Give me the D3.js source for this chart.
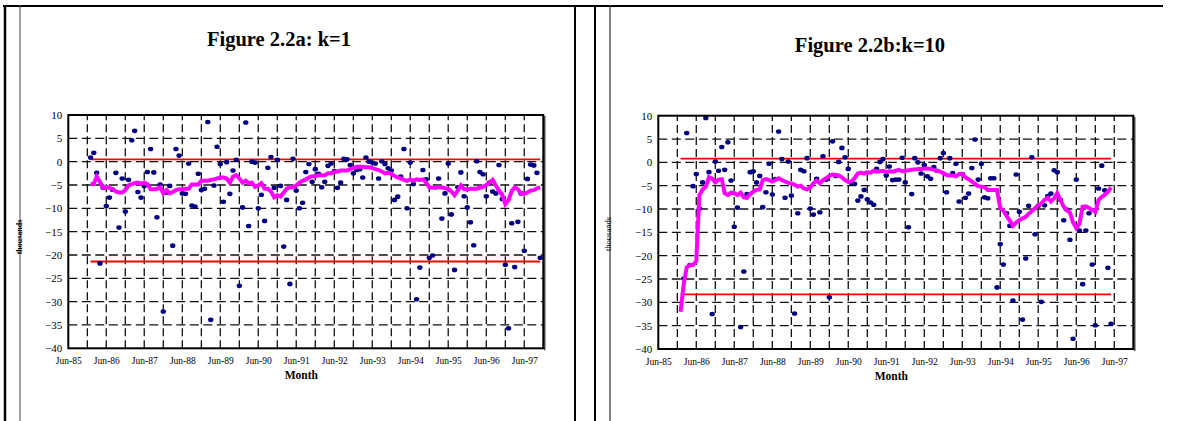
<!DOCTYPE html>
<html>
<head>
<meta charset="utf-8">
<script src="https://cdn.jsdelivr.net/npm/d3@7"></script>
<style>
  body { margin: 0; background: #fff; }
  svg { display: block; }
  text { font-family: "Liberation Serif", "Times New Roman", serif; }
</style>
</head>
<body>
<script>
// ---- data (thousands, monthly) ----
const yTicks = [10, 5, 0, -5, -10, -15, -20, -25, -30, -35, -40];
const xTickLabels = ["Jun-85", "Jun-86", "Jun-87", "Jun-88", "Jun-89", "Jun-90", "Jun-91",
                     "Jun-92", "Jun-93", "Jun-94", "Jun-95", "Jun-96", "Jun-97"];

// panel a (k=1): Jan-86 .. Nov-97
const aStart = "1986-01";
const aDots = [0.9, 1.9, -2.4, -21.8, -5.6, -9.5, -7.7, -6.0, -2.4, -14.1, -3.6, -10.7, -3.9, 4.6, 6.6, -6.5, -7.7,
  -5.2, -2.2, 2.7, -2.3, -11.9, -4.9, -32.1, -6.6, -5.2, -18.0, 2.7, 1.3, -6.8, -6.9, -0.4, -9.4, -9.6, -2.6, -6.1,
  -5.8, 8.5, -33.9, -5.1, 3.2, -0.5, -8.6, -0.1, -6.9, -1.9, 0.4, -26.6, -9.8, 8.4, -13.8, 0.0, -0.2, -10.0, -7.1,
  -12.7, -1.3, 1.0, -5.6, 0.4, -5.2, -18.2, -8.2, -26.2, 0.6, -6.2, -10.0, -8.8, -2.2, -0.5, -4.3, -1.6, -2.6, -5.5,
  -4.3, -0.9, -0.4, -2.0, -5.6, -4.5, 0.6, 0.5, -0.7, -2.5, -1.8, -1.6, -3.4, 0.9, 0.0, -0.2, -0.4, -3.6, 0.1, -0.5,
  -1.4, -1.9, -8.2, -7.5, -3.2, 2.7, -10.0, -0.2, -4.8, -29.5, -22.7, -1.8, -3.8, -20.6, -20.1, -5.5, -3.6, -12.2,
  -6.8, -0.4, -11.3, -23.2, -5.5, -2.3, -7.4, -9.8, -13.0, -17.9, 0.1, -2.2, -2.7, -7.4, -4.5, -6.4, -6.8, -0.7,
  -8.0, -22.1, -35.7, -13.2, -22.6, -12.9, -6.8, -19.1, -3.7, -0.6, -0.8, -2.4, -20.6];
const aSmooth = [-4.8, -4.8, -3.2, -4.3, -5.6, -5.4, -5.6, -5.9, -6.4, -6.6, -6.6, -6.1, -5.1, -4.8, -4.6, -4.5,
  -4.7, -4.5, -4.8, -5.9, -5.9, -5.8, -5.5, -6.8, -6.1, -6.8, -6.5, -6.1, -5.9, -5.9, -5.8, -5.8, -4.9, -4.9, -4.9,
  -4.1, -4.1, -4.1, -3.9, -3.8, -3.6, -3.4, -3.4, -3.6, -4.5, -3.2, -2.9, -3.6, -4.5, -4.1, -4.6, -4.5, -5.4, -5.1,
  -4.6, -5.8, -5.8, -6.4, -7.6, -7.2, -7.5, -6.6, -5.8, -5.5, -5.5, -5.1, -4.5, -4.1, -3.8, -3.4, -3.1, -3.1, -2.9,
  -2.9, -2.9, -2.5, -2.5, -2.2, -2.1, -1.9, -1.9, -1.9, -1.6, -1.4, -1.1, -1.1, -1.1, -1.2, -1.2, -1.4, -1.6, -1.8,
  -2.1, -2.5, -2.4, -2.6, -3.1, -3.4, -3.6, -3.9, -4.1, -3.8, -4.1, -3.8, -3.9, -3.8, -4.5, -5.5, -5.6, -5.5, -5.5,
  -5.5, -5.7, -5.8, -6.4, -7.2, -6.2, -5.1, -5.9, -5.9, -5.8, -5.8, -5.8, -5.6, -5.4, -5.0, -4.5, -3.9, -5.1, -6.2,
  -7.1, -9.1, -8.2, -6.3, -5.5, -5.9, -6.9, -6.9, -6.6, -6.2, -6.1, -5.7, -5.5];
const aLimits = [0.5, -21.4];

// panel b (k=10): dots Feb-86 .. Apr-97, smoothed line Jan-86 .. Apr-97
const bDotStart = "1986-02";
const bDots = [-24.9, 6.3, -22.0, -5.1, -2.5, -9.9, -4.3, 9.5, -2.1, -32.5, 0.2, -1.8, 3.3, -1.6, 4.3, -3.9, -13.8,
  -9.7, -35.3, -23.4, -6.8, -2.1, -1.9, -4.3, -2.9, -9.6, -6.4, -0.3, -6.9, -3.6, 6.6, 0.7, -7.6, 0.2, -7.1, -32.4,
  -10.9, -1.6, -1.9, 0.9, -9.9, -11.2, -3.5, -10.7, 1.3, -3.7, -28.9, 4.5, -2.9, 0.1, 3.1, 1.1, -1.4, -4.4, -4.6,
  -8.2, -7.3, -5.9, -7.9, -8.6, -9.1, -1.4, 0.1, 0.7, -2.8, -0.9, -3.8, -3.7, -3.7, 1.0, -4.3, -13.9, -6.8, 0.9, 0.0,
  -2.4, -0.6, -3.0, -3.5, -1.0, -1.8, 0.9, 2.0, -6.4, 0.9, -2.3, -0.3, -8.4, -2.5, -7.6, -6.7, -1.2, 4.9, -3.7, -0.3,
  -7.5, -7.7, -3.4, -3.4, -26.8, -17.5, -21.9, -10.9, -13.6, -29.6, -2.6, -10.6, -33.7, -20.6, -9.3, 1.1, -15.4,
  -9.3, -29.9, -9.2, -7.2, -6.7, -1.7, -2.1, -8.0, -12.4, -10.1, -16.6, -37.8, -3.7, -14.6, -26.1, -14.6, -10.9,
  -21.9, -34.9, -5.6, -0.7, -6.0, -22.6, -34.6];
const bLineStart = "1986-01";
const bSmooth = [-32.0, -26.0, -22.5, -22.0, -22.0, -21.2, -7.0, -5.8, -5.2, -3.2, -3.5, -4.3, -3.7, -3.6, -6.6,
  -7.0, -6.5, -6.6, -7.0, -6.5, -7.5, -7.6, -6.8, -6.3, -5.9, -5.8, -3.8, -3.6, -3.8, -4.1, -3.8, -3.4, -3.8, -4.1,
  -4.4, -4.5, -4.8, -5.2, -5.0, -5.6, -5.8, -5.4, -4.5, -3.9, -4.5, -3.8, -3.4, -2.9, -2.6, -2.7, -2.8, -3.2, -3.8,
  -4.2, -4.1, -3.4, -2.4, -2.2, -2.4, -2.1, -2.2, -1.8, -2.0, -1.9, -1.8, -2.1, -1.9, -2.0, -1.8, -1.6, -1.9, -1.8,
  -1.7, -1.6, -1.5, -1.4, -1.4, -1.3, -1.3, -1.4, -1.6, -1.8, -2.0, -2.3, -2.7, -2.8, -2.8, -3.0, -2.5, -2.5, -3.2,
  -3.6, -4.1, -4.6, -5.1, -5.2, -5.3, -5.9, -5.9, -5.9, -5.9, -9.8, -10.3, -11.5, -12.5, -13.6, -12.9, -12.4, -12.0,
  -11.7, -11.0, -10.5, -9.8, -9.2, -8.8, -8.0, -7.6, -8.4, -7.7, -6.6, -8.1, -9.5, -10.2, -10.8, -12.9, -14.1,
  -13.2, -9.5, -9.4, -9.8, -10.2, -10.6, -8.1, -7.4, -7.0, -6.3, -5.4];
const bLimits = [0.8, -28.3];

// ---- layout ----
const W = 1181, H = 421;
const plotW = 475, plotH = 233.3;
const parseMonth = d3.timeParse("%Y-%m");
const axisStart = parseMonth("1985-06"), axisEnd = parseMonth("1997-12");

const svg = d3.select("body").append("svg").attr("width", W).attr("height", H);

// page table frame
svg.append("line").attr("x1", 3).attr("x2", 1163).attr("y1", 6).attr("y2", 6)
   .attr("stroke", "#000").attr("stroke-width", 2);
[[5, 2.5, "#000"], [20, 1, "#444"], [575, 2, "#000"], [595, 2, "#000"], [610, 1.2, "#333"]].forEach(([xx, w, c]) => {
  svg.append("line").attr("x1", xx).attr("x2", xx).attr("y1", 5).attr("y2", H)
     .attr("stroke", c).attr("stroke-width", w);
});

function drawPanel(cfg) {
  const x = d3.scaleTime().domain([axisStart, axisEnd]).range([0, plotW]);
  const y = d3.scaleLinear().domain([-40, 10]).range([plotH, 0]);

  const root = svg.append("g").attr("transform", `translate(${cfg.left},0)`);

  root.append("text").attr("x", cfg.titleX).attr("y", cfg.titleY)
      .attr("text-anchor", "middle").attr("font-size", 20.5).attr("font-weight", "bold")
      .text(cfg.title);

  root.append("text").attr("transform", `translate(${cfg.ylabX},${cfg.ylabY}) rotate(-90)`)
      .attr("text-anchor", "middle").attr("font-size", cfg.ylabSize)
      .attr("font-weight", cfg.ylabBold ? "bold" : "normal").attr("font-family", "Liberation Sans, Arial, sans-serif")
      .text("thousands");

  const g = root.append("g").attr("transform", `translate(${cfg.plotX},${cfg.plotY})`);

  g.append("rect").attr("width", plotW).attr("height", plotH).attr("fill", "#fff");

  // horizontal dashed gridlines
  g.selectAll(".hg").data(yTicks.filter(v => v > -40 && v < 10)).join("line")
    .attr("x1", 0).attr("x2", plotW).attr("y1", d => y(d)).attr("y2", d => y(d))
    .attr("stroke", "#111").attr("stroke-width", 1.3).attr("stroke-dasharray", "9,4.5");

  // vertical dashed gridlines every 6 months
  const vMonths = d3.timeMonth.range(parseMonth("1985-12"), axisEnd, 6);
  g.selectAll(".vg").data(vMonths).join("line")
    .attr("x1", d => x(d)).attr("x2", d => x(d)).attr("y1", plotH).attr("y2", 0)
    .attr("stroke", "#111").attr("stroke-width", 1.3).attr("stroke-dasharray", "8,4");

  // control limits
  const limFirst = parseMonth(cfg.limitStart);
  const limLast = d3.timeMonth.offset(parseMonth(cfg.lineStart), cfg.smooth.length - 1);
  g.selectAll(".lim").data(cfg.limits).join("line")
    .attr("x1", x(limFirst)).attr("x2", x(limLast)).attr("y1", d => y(d)).attr("y2", d => y(d))
    .attr("stroke", "#ff0000").attr("stroke-width", 1.8);

  // observations
  const dStart = parseMonth(cfg.dotStart);
  g.selectAll(".pt").data(cfg.dots).join("ellipse")
    .attr("cx", (d, i) => x(d3.timeMonth.offset(dStart, i)))
    .attr("cy", d => y(d))
    .attr("rx", 2.7).attr("ry", 2.3).attr("fill", "#000080");

  // smoothed series
  const lStart = parseMonth(cfg.lineStart);
  const line = d3.line().x((d, i) => x(d3.timeMonth.offset(lStart, i))).y(d => y(d));
  g.append("path").datum(cfg.smooth).attr("d", line)
    .attr("fill", "none").attr("stroke", "#ff00ff").attr("stroke-width", 4)
    .attr("stroke-linejoin", "miter").attr("stroke-linecap", "butt");

  // plot frame
  g.append("rect").attr("width", plotW).attr("height", plotH)
    .attr("fill", "none").attr("stroke", "#000").attr("stroke-width", 2);
  g.append("line").attr("x1", plotW + 1.5).attr("x2", plotW + 1.5).attr("y1", 1).attr("y2", plotH + 2)
    .attr("stroke", "#222").attr("stroke-width", 1.2);

  // axes labels
  const yAxis = d3.axisLeft(y).tickValues(yTicks).tickSize(0).tickPadding(6);
  g.append("g").call(yAxis).call(a => a.select(".domain").remove())
    .selectAll("text").attr("font-size", 11).attr("font-family", "Liberation Serif, serif").attr("fill", "#000");

  const junes = d3.timeMonth.range(axisStart, d3.timeMonth.offset(axisStart, 145), 12);
  const xAxis = d3.axisBottom(x).tickValues(junes).tickSize(0).tickPadding(9)
    .tickFormat((d, i) => xTickLabels[i]);
  g.append("g").attr("transform", `translate(0,${plotH})`).call(xAxis)
    .call(a => a.select(".domain").remove())
    .selectAll("text").attr("font-size", 9.5).attr("font-family", "Liberation Serif, serif").attr("fill", "#000");

  g.append("text").attr("x", cfg.monthX).attr("y", plotH + 31)
    .attr("text-anchor", "middle").attr("font-size", 11.5).attr("font-weight", "bold").text("Month");
}

drawPanel({
  left: 0, plotX: 68.3, plotY: 115, title: "Figure 2.2a: k=1", titleX: 279, titleY: 46,
  ylabX: 22, ylabY: 237, ylabSize: 8, ylabBold: true, monthX: 233,
  dots: aDots, dotStart: aStart, smooth: aSmooth, lineStart: aStart, limits: aLimits, limitStart: aStart
});
drawPanel({
  left: 590, plotX: 68.3, plotY: 115.7, title: "Figure 2.2b:k=10", titleX: 280, titleY: 52,
  ylabX: 21, ylabY: 234, ylabSize: 8.5, ylabBold: false, monthX: 233,
  dots: bDots, dotStart: bDotStart, smooth: bSmooth, lineStart: bLineStart, limits: bLimits, limitStart: bLineStart
});
</script>
</body>
</html>
